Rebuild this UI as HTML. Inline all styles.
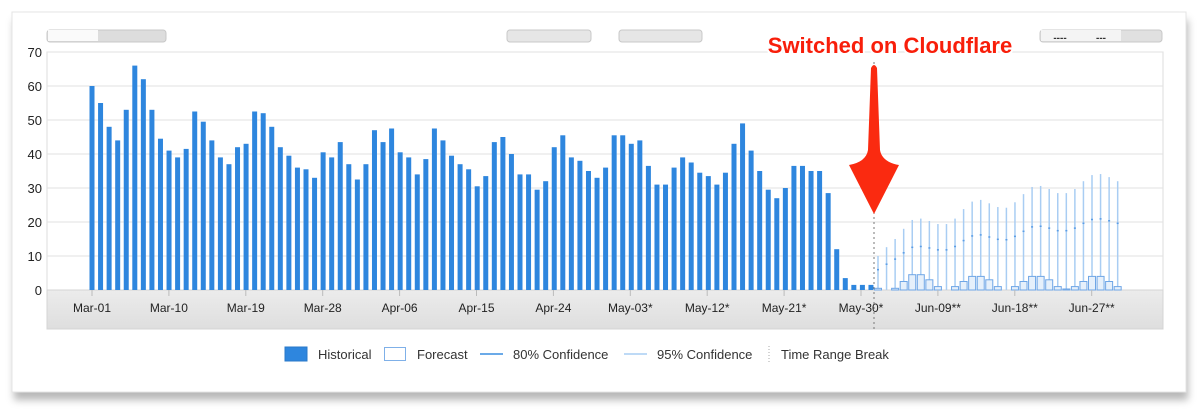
<!DOCTYPE html>
<html><head><meta charset="utf-8"><style>
html,body{margin:0;padding:0;background:#fff;width:1200px;height:420px;overflow:hidden}
svg{display:block;font-family:"Liberation Sans",Arial,sans-serif}
</style></head><body>
<svg id="s" width="1200" height="420" xmlns="http://www.w3.org/2000/svg">
<defs>
<filter id="sh" x="-5%" y="-10%" width="110%" height="130%"><feGaussianBlur stdDeviation="4"/></filter>
<linearGradient id="band" x1="0" y1="0" x2="0" y2="1"><stop offset="0" stop-color="#ececec"/><stop offset="1" stop-color="#dedede"/></linearGradient>
</defs>
<rect x="14" y="20" width="1174" height="380" fill="#888" opacity="0.6" filter="url(#sh)"/>
<rect x="12" y="12" width="1174" height="380" fill="#fff" stroke="#e4e4e4"/>
<rect x="47" y="30" width="119" height="12" rx="3" fill="#ddd" stroke="#c8c8c8"/>
<rect x="48" y="30" width="50" height="11" fill="#fafafa"/>
<rect x="507" y="30" width="84" height="12" rx="3" fill="#e6e6e6" stroke="#c8c8c8"/>
<rect x="619" y="30" width="83" height="12" rx="3" fill="#e6e6e6" stroke="#c8c8c8"/>
<rect x="1040" y="30" width="122" height="12" rx="3" fill="#e0e0e0" stroke="#c8c8c8"/>
<rect x="1041" y="30" width="80" height="11" fill="#f4f4f4"/>
<text x="1060" y="41" font-size="10" font-weight="bold" fill="#333" text-anchor="middle">----</text>
<text x="1101" y="41" font-size="10" font-weight="bold" fill="#333" text-anchor="middle">---</text>
<rect x="47" y="52" width="1116" height="238" fill="#fff" stroke="#ddd"/>
<rect x="47" y="290" width="1116" height="39" fill="url(#band)" stroke="#d4d4d4"/>
<g id="grid"></g>
<g id="bars"></g>
<g id="labels" font-size="12" fill="#222"></g>
<line x1="874" y1="62" x2="874" y2="329" stroke="#777" stroke-dasharray="2,3"/>
<path d="M871,68 Q874,62 877,68 L880,150 Q882,162 899,165 L874,214 L849,165 Q866,162 868,150 Z" fill="#fa2a10"/>
<text x="890" y="53" font-size="22" font-weight="bold" fill="#f81e0a" stroke="#fff" stroke-width="4" paint-order="stroke" text-anchor="middle">Switched on Cloudflare</text>
<g font-size="13" fill="#333">
<rect x="285" y="347" width="22" height="14" fill="#2e86de" stroke="#2a78c8"/>
<text x="318" y="359">Historical</text>
<rect x="384.5" y="347.5" width="21" height="13" fill="#fff" stroke="#7fb0e8"/>
<text x="417" y="359">Forecast</text>
<line x1="480" y1="354" x2="503" y2="354" stroke="#3a8ee0" stroke-width="1.5"/>
<text x="513" y="359">80% Confidence</text>
<line x1="624" y1="354" x2="647" y2="354" stroke="#a9cdf3" stroke-width="1.5"/>
<text x="657" y="359">95% Confidence</text>
<line x1="769" y1="346" x2="769" y2="362" stroke="#aaa" stroke-dasharray="1,2"/>
<text x="781" y="359">Time Range Break</text>
</g>
</svg>
<script>
var NS="http://www.w3.org/2000/svg";
function el(p,t,a,txt){var e=document.createElementNS(NS,t);for(var k in a)e.setAttribute(k,a[k]);if(txt)e.textContent=txt;document.getElementById(p).appendChild(e);return e;}
var y0=290,sc=3.4,x0=92,dx=8.56;
for(var v=0;v<=70;v+=10){var y=y0-v*sc;if(v>0)el("grid","line",{x1:47,x2:1163,y1:y,y2:y,stroke:"#e2e2e2"});el("labels","text",{x:42,y:y+5,"text-anchor":"end","font-size":13},String(v));}
var h=[60,55,48,44,53,66,62,53,44.5,41,39,41.5,52.5,49.5,44,39,37,42,43,52.5,52,48,42,39.5,36,35.5,33,40.5,39,43.5,37,32.5,37,47,43.5,47.5,40.5,39,34,38.5,47.5,44,39.5,37,35.5,30.5,33.5,43.5,45,40,34,34,29.5,32,42,45.5,39,38,35,33,36,45.5,45.5,43,44,36.5,31,31,36,39,37.5,34.5,33.5,31,34.5,43,49,41,35,29.5,27,30,36.5,36.5,35,35,28.5,12,3.5,1.5,1.5,1.5];
h.forEach(function(v,i){var x=x0+i*dx;el("bars","rect",{x:x-2.5,y:y0-v*sc,width:5,height:v*sc,fill:"#2e86de"});});
var up=[10,12.6,15,18,20.6,21,20.3,19.4,19.4,21,23.8,26,26.5,25.5,24.4,24.2,25.8,28.2,30.3,30.6,29.7,28.5,28.5,29.7,32,33.8,34.1,33.2,32];
var fb=[0.5,0,0.5,2.5,4.5,4.5,3,1,0,1,2.5,4,4,3,1,0,1,2.5,4,4,3,1,0.3,1,2.5,4,4,2.5,1];
up.forEach(function(u,i){var x=878+i*dx;
el("bars","line",{x1:x,x2:x,y1:y0-u*sc,y2:y0,stroke:"#a9cdf3","stroke-width":1.5});
el("bars","rect",{x:x-1,y:y0-u*0.62*sc,width:2,height:1.5,fill:"#5a9de6"});
var b=fb[i];if(b>0)el("bars","rect",{x:x-3.5,y:y0-b*sc,width:7,height:b*sc,fill:"#e6f0fb",stroke:"#6fa6e6","stroke-width":1});});
var L=["Mar-01","Mar-10","Mar-19","Mar-28","Apr-06","Apr-15","Apr-24","May-03*","May-12*","May-21*","May-30*","Jun-09**","Jun-18**","Jun-27**"];
L.forEach(function(t,i){var x=92+i*76.9;el("labels","line",{x1:x,x2:x,y1:290,y2:296,stroke:"#bbb"});el("labels","text",{x:x,y:312,"text-anchor":"middle","font-size":12},t);});
</script>
</body></html>
